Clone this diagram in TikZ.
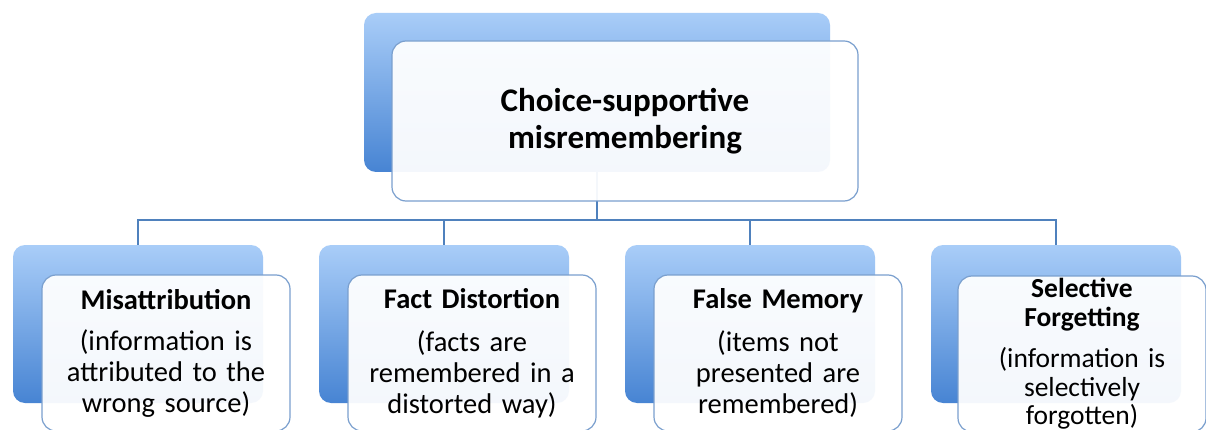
\documentclass[tikz,border=0pt]{standalone}
\usepackage{fontspec}
\setmainfont{Carlito}
\definecolor{lineblue}{HTML}{4F81BD}
\definecolor{frontline}{HTML}{7A9FCE}
\definecolor{backtop}{HTML}{A9CDF8}
\definecolor{backbot}{HTML}{4784D3}
\tikzset{
  backbox/.style={draw=none, rounded corners=12pt, top color=backtop, bottom color=backbot,
    minimum width=250pt, minimum height=158pt, inner sep=0pt},
  frontbox/.style={draw=frontline, line width=1.2pt, rounded corners=14pt, fill=white,
    fill opacity=0.94, text opacity=1, minimum width=248pt, minimum height=156pt,
    align=center, inner sep=0pt, text width=246pt, font=\fontsize{28.5}{31}\selectfont},
  conn/.style={draw=lineblue, line width=1.6pt},
}
\begin{document}
\begin{tikzpicture}[x=1pt,y=-1pt]
\useasboundingbox (0,0) rectangle (1206,430);
\fill[white] (0,0) rectangle (1206,430);
% connectors (drawn first, show faintly through the front box)
\node[backbox, minimum width=466pt, minimum height=159pt, fill opacity=0, draw opacity=0] (tbpos) at (597,92.5) {};
\coordinate (bus) at (597,220);
\node[backbox] (b1) at (138,324) {};
\node[backbox] (b2) at (444,324) {};
\node[backbox] (b3) at (750,324) {};
\node[backbox] (b4) at (1056,324) {};
\draw[conn] (tbpos.south) -- (bus);
\draw[conn] (bus) -| (b1.north);
\draw[conn] (bus) -| (b2.north);
\draw[conn] (bus) -| (b3.north);
\draw[conn] (bus) -| (b4.north);
% top
\node[backbox, minimum width=466pt, minimum height=159pt] (tb) at (597,92.5) {};
\node[frontbox, minimum width=466pt, minimum height=160pt, text width=440pt,
      font=\fontsize{33}{37}\selectfont\bfseries] (tf) at (625,121)
  {Choice-supportive\\misremembering};
% bottom fronts
\node[frontbox] (f1) at (166,353)
  {\textbf{Misattribution}\\[10pt](information is\\attributed to the\\wrong source)};
\node[frontbox] (f2) at (472,353)
  {\textbf{Fact Distortion}\\[12pt](facts are\\remembered in a\\distorted way)};
\node[frontbox] (f3) at (778,353)
  {\textbf{False Memory}\\[12pt](items not\\presented are\\remembered)};
\node[frontbox, font=\fontsize{27.5}{28.5}\selectfont] (f4) at (1082,354)
  {\textbf{Selective}\\\textbf{Forgetting}\\[13pt](information is\\selectively\\forgotten)};
\end{tikzpicture}
\end{document}
